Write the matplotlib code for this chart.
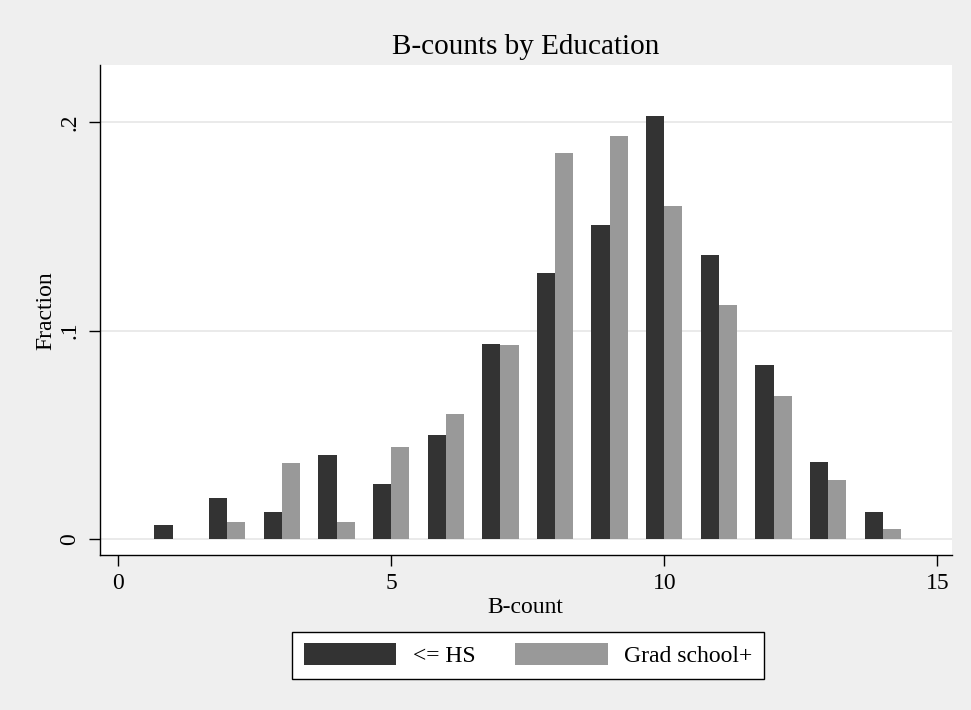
import numpy as np
import matplotlib
matplotlib.use("Agg")
import matplotlib.pyplot as plt

bcount = [1, 2, 3, 4, 5, 6, 7, 8, 9, 10, 11, 12, 13, 14]
hs = [0.0066, 0.0198, 0.0131, 0.0401, 0.0265, 0.0497, 0.0935, 0.1276,
      0.1506, 0.2032, 0.1362, 0.0833, 0.0371, 0.0131]
grad = [0.0, 0.0083, 0.0364, 0.0083, 0.0443, 0.0601, 0.0930, 0.1850,
        0.1933, 0.1600, 0.1125, 0.0684, 0.0282, 0.0047]
series_names = ["<= HS", "Grad school+"]

plt.rcParams["font.family"] = ["Liberation Serif", "DejaVu Serif"]

fig = plt.figure(figsize=(9.71, 7.10), dpi=100)
fig.patch.set_facecolor("#efefef")
ax = fig.add_axes([0.103, 0.218, 0.877, 0.690])
ax.set_facecolor("white")

x = np.array(bcount)
w = 1 / 3
ax.bar(x - w / 2, hs, width=w, color="#333333", linewidth=0,
       label=series_names[0], zorder=3)
ax.bar(x + w / 2, grad, width=w, color="#999999", linewidth=0,
       label=series_names[1], zorder=3)

ax.set_xlim(-0.33, 15.26)
ax.set_ylim(-0.0078, 0.2273)
ax.set_xticks([0, 5, 10, 15])
ax.set_yticks([0, 0.1, 0.2])
ax.set_yticklabels(["0", ".1", ".2"], rotation=90, va="center")
ax.tick_params(axis="both", labelsize=17, length=8, width=1, direction="out")
ax.tick_params(axis="y", pad=6)
ax.tick_params(axis="x", pad=5)
ax.grid(axis="y", color="#e6e6e6", linewidth=1.2, zorder=0)

for s in ["top", "right"]:
    ax.spines[s].set_visible(False)
for s in ["left", "bottom"]:
    ax.spines[s].set_linewidth(1)

ax.set_title("B-counts by Education", fontsize=21, pad=8)
ax.set_xlabel("B-count", fontsize=17, labelpad=2)
ax.set_ylabel("Fraction", fontsize=17, labelpad=2)

leg = fig.legend(loc="center", bbox_to_anchor=(0.544, 0.077),
                 ncol=2, fontsize=17, frameon=True, fancybox=False,
                 framealpha=1, handlelength=3.9, handleheight=1.05,
                 columnspacing=1.7, handletextpad=0.7, borderpad=0.5)
leg.get_frame().set_edgecolor("black")
leg.get_frame().set_linewidth(1)

fig.savefig("out.png", dpi=100, facecolor=fig.get_facecolor())
